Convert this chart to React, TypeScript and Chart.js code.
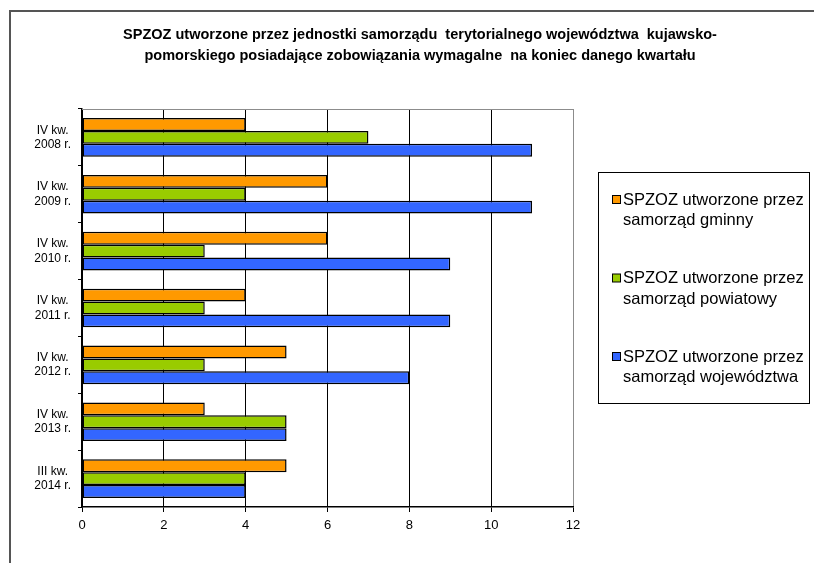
import React, { useEffect, useRef } from "react";
import { Chart, registerables } from "chart.js";

Chart.register(...registerables);

const categories: string[][] = [
  ["IV kw.", "2008 r."],
  ["IV kw.", "2009 r."],
  ["IV kw.", "2010 r."],
  ["IV kw.", "2011 r."],
  ["IV kw.", "2012 r."],
  ["IV kw.", "2013 r."],
  ["III kw.", "2014 r."],
];
const gminny = [4, 6, 6, 4, 5, 3, 5];
const powiatowy = [7, 4, 3, 3, 3, 5, 4];
const wojewodztwa = [11, 11, 9, 9, 8, 5, 4];

const seriesNames: string[][] = [
  ["SPZOZ utworzone przez", "samorząd gminny"],
  ["SPZOZ utworzone przez", "samorząd powiatowy"],
  ["SPZOZ utworzone przez", "samorząd województwa"],
];
const seriesColors = ["#FF9900", "#99CC00", "#3366FF"];

const titleLines = [
  "SPZOZ utworzone przez jednostki samorządu  terytorialnego województwa  kujawsko-",
  "pomorskiego posiadające zobowiązania wymagalne  na koniec danego kwartału",
];

const SANS = "'Liberation Sans', Arial, sans-serif";

const decorPlugin = {
  id: "decor",
  beforeDraw(chart: any) {
    const ctx = chart.ctx;
    ctx.save();
    ctx.fillStyle = "#ffffff";
    ctx.fillRect(0, 0, chart.width, chart.height);
    ctx.strokeStyle = "#555555";
    ctx.lineWidth = 2;
    ctx.strokeRect(2, 3, 830, 600);
    ctx.restore();
  },
  afterDatasetsDraw(chart: any) {
    const ctx = chart.ctx;
    const a = chart.chartArea;
    ctx.save();
    ctx.strokeStyle = "#8c8c8c";
    ctx.lineWidth = 1;
    ctx.beginPath();
    ctx.moveTo(a.left, a.top + 0.5);
    ctx.lineTo(a.right + 1, a.top + 0.5);
    ctx.stroke();
    ctx.restore();
  },
  afterDraw(chart: any) {
    const ctx = chart.ctx;
    ctx.save();
    // title
    ctx.fillStyle = "#000000";
    ctx.textAlign = "center";
    ctx.textBaseline = "middle";
    ctx.font = "bold 14.5px " + SANS;
    titleLines.forEach((t, i) => ctx.fillText(t, 412, 27 + i * 21));
    // legend
    const bx = 590.5, by = 164.5, bw = 211, bh = 231;
    ctx.strokeStyle = "#000000";
    ctx.lineWidth = 1;
    ctx.strokeRect(bx, by, bw, bh);
    ctx.font = "16.5px " + SANS;
    ctx.textAlign = "left";
    chart.data.datasets.forEach((ds: any, i: number) => {
      const y = 192 + i * 78.5;
      ctx.fillStyle = ds.backgroundColor;
      ctx.fillRect(604.5, y - 4.5, 8, 8);
      ctx.strokeRect(604.5, y - 4.5, 8, 8);
      ctx.fillStyle = "#000000";
      const lines: string[] = ds.label.split("\n");
      lines.forEach((l, j) => ctx.fillText(l, 615, y + j * 20.5));
    });
    ctx.restore();
  },
};

export default function App() {
  const ref = useRef<HTMLCanvasElement>(null);
  useEffect(() => {
    const canvas = ref.current!;
    const chart = new Chart(canvas, {
      type: "bar",
      data: {
        labels: categories,
        datasets: [gminny, powiatowy, wojewodztwa].map((d, i) => ({
          label: seriesNames[i].join("\n"),
          data: d,
          backgroundColor: seriesColors[i],
          borderColor: "#000000",
          borderWidth: 1.5,
          borderSkipped: false,
          categoryPercentage: 0.68,
          barPercentage: 1.0,
        })),
      },
      options: {
        indexAxis: "y",
        responsive: false,
        animation: false,
        devicePixelRatio: 1,
        layout: { padding: { top: 101, left: 0, right: 824 - 565, bottom: 0 } },
        plugins: {
          legend: { display: false },
          title: { display: false },
          tooltip: { enabled: false },
        },
        scales: {
          x: {
            min: 0,
            max: 12,
            ticks: {
              stepSize: 2,
              color: "#000000",
              font: { family: SANS, size: 13 },
              padding: 6,
            },
            grid: {
              color: (c: any) => (c.tick && c.tick.value === 12 ? "#8c8c8c" : "#000000"),
              tickColor: "#000000",
              tickLength: 5,
              lineWidth: 1,
            },
            border: { color: "#000000", width: 1.5 },
            afterFit: (s: any) => {
              s.height = 575 - 499;
            },
          },
          y: {
            ticks: {
              color: "#000000",
              font: { family: SANS, size: 12, lineHeight: 1.2 },
              crossAlign: "center",
              padding: 7,
              autoSkip: false,
            },
            grid: {
              drawOnChartArea: false,
              offset: true,
              tickLength: 4,
              color: "#000000",
            },
            border: { color: "#000000", width: 1.5 },
            afterFit: (s: any) => {
              s.width = 74;
            },
          },
        },
      },
      plugins: [decorPlugin],
    });
    return () => chart.destroy();
  }, []);
  return (
    <div style={{ position: "fixed", left: 8, top: 8, width: 806, height: 555, overflow: "hidden" }}>
      <canvas ref={ref} width={824} height={575} style={{ display: "block" }} />
    </div>
  );
}
